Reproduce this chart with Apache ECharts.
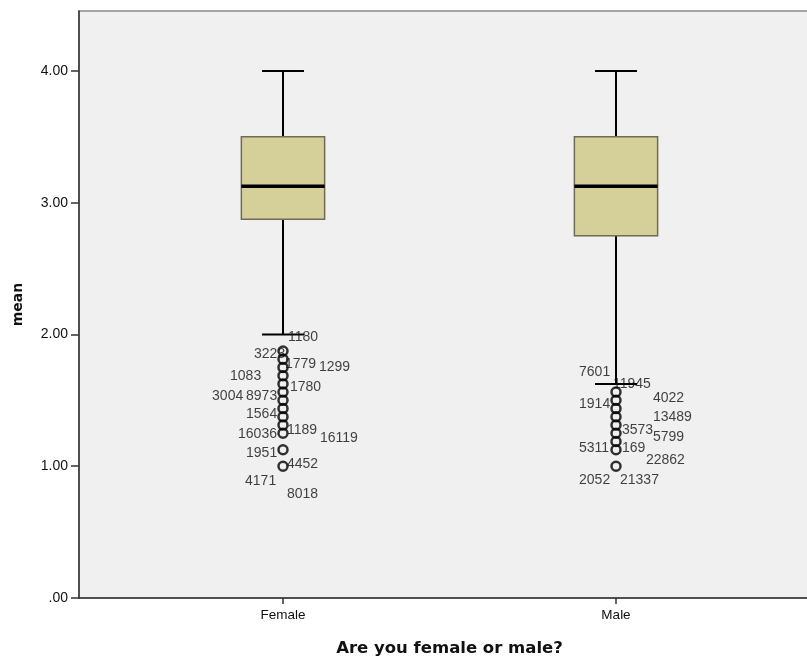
<!DOCTYPE html>
<html>
<head>
<meta charset="utf-8">
<script src="https://cdn.jsdelivr.net/npm/echarts@6/dist/echarts.min.js"></script>
<style>
html,body{margin:0;padding:0;background:#fff;}
#c{width:807px;height:660px;}
</style>
</head>
<body>
<div id="c"></div>
<script>
// ---- data ----
const categories = ['Female', 'Male'];
const catPos = [1, 2];
const whiskerLow = [2.0, 1.625];
const q1 = [2.875, 2.75];
const median = [3.125, 3.125];
const q3 = [3.5, 3.5];
const whiskerHigh = [4.0, 4.0];

const femaleOutliers = [1.875, 1.8125, 1.75, 1.6875, 1.625, 1.5625, 1.5, 1.4375, 1.375, 1.3125, 1.25, 1.125, 1.0];
const maleOutliers = [1.5625, 1.5, 1.4375, 1.375, 1.3125, 1.25, 1.1875, 1.125, 1.0];

// case-id labels: [x (axis units), y (value), text]
const femaleLabels = [
  [1.015, 1.979, '1180'], [0.913, 1.850, '3223'], [1.006, 1.774, '1779'], [1.108, 1.751, '1299'],
  [0.841, 1.683, '1083'], [1.021, 1.599, '1780'], [0.787, 1.531, '3004'], [0.889, 1.531, '8973'],
  [0.889, 1.395, '1564'], [0.865, 1.243, '16036'], [1.012, 1.273, '1189'], [1.111, 1.212, '16119'],
  [0.889, 1.098, '1951'], [1.012, 1.014, '4452'], [0.886, 0.886, '4171'], [1.012, 0.787, '8018']
];
const maleLabels = [
  [1.889, 1.713, '7601'], [1.991, 1.622, '11945'], [1.889, 1.470, '1914'], [2.111, 1.516, '4022'],
  [2.111, 1.372, '13489'], [2.018, 1.273, '3573'], [2.111, 1.220, '5799'], [1.889, 1.137, '5311'],
  [2.018, 1.137, '169'], [2.090, 1.045, '22862'], [1.889, 0.893, '2052'], [2.012, 0.893, '21337']
];
const yTicks = [0, 1, 2, 3, 4];

// ---- build ----
const boxData = categories.map((c, i) => [catPos[i], whiskerLow[i], q1[i], median[i], q3[i], whiskerHigh[i]]);
const outlierData = femaleOutliers.map(v => [catPos[0], v]).concat(maleOutliers.map(v => [catPos[1], v]));
const labelData = femaleLabels.concat(maleLabels);

const BOX_W = 0.25, CAP_W = 0.126;

const chart = echarts.init(document.getElementById('c'), null, {renderer: 'canvas'});
chart.setOption({
  animation: false,
  backgroundColor: '#ffffff',
  grid: {left: 79, width: 741, top: 11, bottom: 62, outerBoundsMode: 'none', containLabel: false,
    show: true, backgroundColor: '#f0f0f0', borderColor: '#8a8a8a', borderWidth: 1.5},
  xAxis: {
    type: 'value', min: 0.3874, max: 2.6126,
    name: 'Are you female or male?', nameLocation: 'middle', nameGap: 42,
    nameTextStyle: {fontFamily: 'DejaVu Sans', fontWeight: 'bold', fontSize: 16.5, color: '#111'},
    axisLine: {show: true, lineStyle: {color: '#333', width: 1.5}},
    axisTick: {show: true, length: 6, customValues: catPos, lineStyle: {color: '#333', width: 1.5}},
    axisLabel: {customValues: catPos, margin: 10, fontFamily: 'Liberation Sans', fontSize: 13.5, color: '#111',
      formatter: v => categories[catPos.indexOf(v)] || ''},
    splitLine: {show: false}
  },
  yAxis: {
    type: 'value', min: 0, max: 4.455,
    name: 'mean', nameLocation: 'middle', nameGap: 54, nameRotate: 90,
    nameTextStyle: {fontFamily: 'DejaVu Sans', fontWeight: 'bold', fontSize: 14, color: '#111'},
    axisLine: {show: true, lineStyle: {color: '#333', width: 1.5}},
    axisTick: {show: true, length: 8, customValues: yTicks, lineStyle: {color: '#333', width: 1.5}},
    axisLabel: {customValues: yTicks, margin: 11, fontFamily: 'Liberation Sans', fontSize: 14, color: '#111',
      formatter: v => v === 0 ? '.00' : v.toFixed(2)},
    splitLine: {show: false}
  },
  series: [
    {
      type: 'custom',
      data: boxData,
      z: 3,
      renderItem: function (params, api) {
        const x = api.value(0);
        const pMin = api.coord([x, api.value(1)]);
        const pQ1 = api.coord([x, api.value(2)]);
        const pMed = api.coord([x, api.value(3)]);
        const pQ3 = api.coord([x, api.value(4)]);
        const pMax = api.coord([x, api.value(5)]);
        const bw = api.size([BOX_W, 0])[0];
        const cw = api.size([CAP_W, 0])[0];
        const cx = pMed[0];
        const line = (x1, y1, x2, y2, w) => ({type: 'line', shape: {x1, y1, x2, y2}, style: {stroke: '#000', lineWidth: w}});
        return {
          type: 'group',
          children: [
            line(cx, pQ3[1], cx, pMax[1], 2),
            line(cx, pQ1[1], cx, pMin[1], 2),
            line(cx - cw / 2, pMax[1], cx + cw / 2, pMax[1], 2),
            line(cx - cw / 2, pMin[1], cx + cw / 2, pMin[1], 2),
            {type: 'rect', shape: {x: cx - bw / 2, y: pQ3[1], width: bw, height: pQ1[1] - pQ3[1]},
              style: {fill: '#d5d09a', stroke: '#6f6b55', lineWidth: 1.5}},
            line(cx - bw / 2, pMed[1], cx + bw / 2, pMed[1], 3.5)
          ]
        };
      }
    },
    {
      type: 'scatter',
      data: outlierData,
      symbol: 'circle',
      symbolSize: 9,
      z: 4,
      itemStyle: {color: 'rgba(0,0,0,0)', borderColor: '#000', borderWidth: 2.5}
    },
    {
      type: 'scatter',
      data: labelData,
      symbolSize: 1,
      z: 5,
      itemStyle: {color: 'rgba(0,0,0,0)'},
      label: {
        show: true, position: 'inside', align: 'left', verticalAlign: 'middle',
        fontFamily: 'Liberation Sans', fontSize: 14, color: '#111',
        formatter: p => p.data[2]
      }
    }
  ]
});
</script>
</body>
</html>
